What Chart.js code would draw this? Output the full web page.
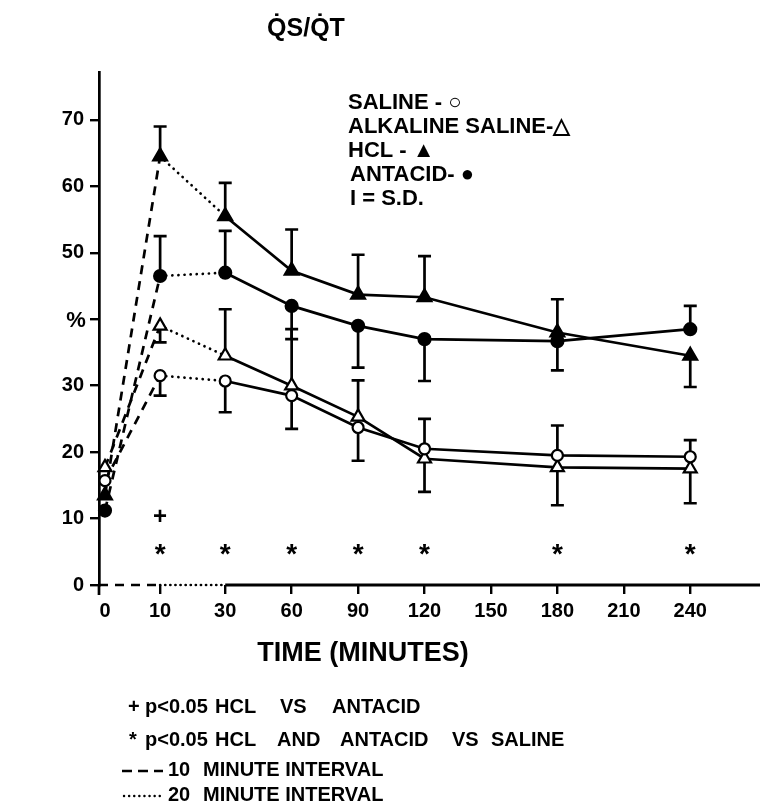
<!DOCTYPE html>
<html><head><meta charset="utf-8">
<script src="https://cdn.jsdelivr.net/npm/chart.js@4.4.0/dist/chart.umd.min.js"></script>
<style>html,body{margin:0;padding:0;background:#fff;}</style>
</head><body>
<canvas id="c" width="775" height="808"></canvas>
<script>
// ---- data ----
const times = [0, 10, 30, 60, 90, 120, 180, 240];
const tickTimes = [0, 10, 30, 60, 90, 120, 150, 180, 210, 240];
const yTicks = [0, 10, 20, 30, 40, 50, 60, 70];

const saline    = [15.7, 31.5, 30.7, 28.5, 23.7, 20.5, 19.5, 19.3];
const alkSaline = [17.7, 39.0, 34.5, 30.0, 25.3, 19.0, 17.7, 17.5];
const hcl       = [13.5, 64.5, 55.5, 47.3, 43.7, 43.3, 38.0, 34.5];
const antacid   = [11.2, 46.5, 47.0, 42.0, 39.0, 37.0, 36.7, 38.5];

// standard deviations (bar length) and the side each bar is drawn on (+1 up, -1 down)
const salineSD    = [0, 3.0, 4.7, 5.0, 5.0, 4.5, 4.5, 2.5];
const salineDir   = [0, -1, -1, -1, -1, 1, 1, 1];
const alkSalineSD = [0, 2.5, 7.0, 8.5, 5.5, 5.0, 5.7, 5.2];
const alkSalineDir= [0, -1, 1, 1, 1, -1, -1, -1];
const hclSD       = [0, 4.5, 5.0, 6.2, 6.0, 6.2, 5.0, 4.7];
const hclDir      = [0, 1, 1, 1, 1, 1, 1, -1];
const antacidSD   = [0, 6.0, 6.3, 5.0, 6.3, 6.3, 4.4, 3.5];
const antacidDir  = [0, 1, 1, -1, -1, -1, -1, 1];

// significance markers
const plusTimes = [10];
const starTimes = [10, 30, 60, 90, 120, 180, 240];

// ---- non-uniform time axis (layout mapping) ----
const breakT = [0, 10, 30, 240];
const breakP = [0, 0.83, 1.81, 8.81];
function pos(t){
  for (let i = 0; i < breakT.length - 1; i++) {
    if (t <= breakT[i+1] || i === breakT.length - 2) {
      const f = (t - breakT[i]) / (breakT[i+1] - breakT[i]);
      return breakP[i] + f * (breakP[i+1] - breakP[i]);
    }
  }
}
const X_MIN = -0.09, X_MAX = 9.86;
const Y_MAX = 77.2;
const FONT = "'Liberation Sans', Arial, sans-serif";

function pts(arr){ return arr.map((v,i)=>({x: pos(times[i]), y: v})); }
const segDash = ctx => ctx.p0DataIndex === 0 ? [9, 7] : (ctx.p0DataIndex === 1 ? [0.1, 6] : undefined);
const segCap = ctx => ctx.p0DataIndex === 1 ? 'round' : 'butt';
function mk(label, arr, style, fill, radius, sd, dir){
  return {
    label, data: pts(arr), sd, dir, clip:false,
    borderColor:'#000', borderWidth:2.7,
    pointStyle: style, pointRadius: radius, pointHoverRadius: radius,
    pointBackgroundColor: fill, pointBorderColor:'#000', pointBorderWidth:2.2,
    fill:false, tension:0,
    segment:{ borderDash: segDash, borderCapStyle: segCap }
  };
}

const errorBars = {
  id:'errorBars',
  beforeDatasetsDraw(chart){
    const c = chart.ctx, xs = chart.scales.x, ys = chart.scales.y;
    c.save(); c.strokeStyle = '#000'; c.lineWidth = 2.7; c.setLineDash([]);
    chart.data.datasets.forEach(ds => {
      ds.data.forEach((p, j) => {
        const s = ds.sd[j]; if (!s) return;
        const x = xs.getPixelForValue(p.x);
        const y0 = ys.getPixelForValue(p.y);
        const y1 = ys.getPixelForValue(p.y + ds.dir[j] * s);
        c.beginPath(); c.moveTo(x, y0); c.lineTo(x, y1);
        c.moveTo(x - 6.5, y1); c.lineTo(x + 6.5, y1); c.stroke();
      });
    });
    c.restore();
  }
};

function words(c, list, y){ list.forEach(([s, x]) => c.fillText(s, x, y)); }

const decor = {
  id:'decor',
  afterDraw(chart){
    const c = chart.ctx, xs = chart.scales.x, ys = chart.scales.y;
    const y0 = ys.getPixelForValue(0);
    c.save();
    c.strokeStyle = '#000'; c.lineWidth = 2.7;
    // x axis line: dashed 0-10, dotted 10-30, solid afterwards
    c.beginPath(); c.setLineDash([9,7]); c.lineCap='butt';
    c.moveTo(xs.left, y0); c.lineTo(xs.getPixelForValue(pos(10)), y0); c.stroke();
    c.beginPath(); c.setLineDash([0.1,5]); c.lineCap='round';
    c.moveTo(xs.getPixelForValue(pos(10)), y0); c.lineTo(xs.getPixelForValue(pos(30)), y0); c.stroke();
    c.beginPath(); c.setLineDash([]); c.lineCap='butt'; c.lineWidth = 3;
    c.moveTo(xs.getPixelForValue(pos(30)), y0); c.lineTo(xs.right, y0); c.stroke();
    // y axis extends slightly below baseline
    c.beginPath(); c.lineWidth = 2.7; c.moveTo(xs.left, y0); c.lineTo(xs.left, y0 + 10); c.stroke();

    c.fillStyle = '#000'; c.textBaseline = 'middle';
    // significance markers
    c.textAlign = 'center';
    c.font = `bold 24px ${FONT}`;
    plusTimes.forEach(t => c.fillText('+', xs.getPixelForValue(pos(t)), ys.getPixelForValue(10.2)));
    c.font = `bold 28px ${FONT}`;
    starTimes.forEach(t => c.fillText('*', xs.getPixelForValue(pos(t)), ys.getPixelForValue(5.4) + 6));

    // title
    c.font = `bold 25px ${FONT}`;
    c.textBaseline = 'alphabetic';
    c.fillText('Q\u0307S/Q\u0307T', 306, 36);
    c.textBaseline = 'middle';
    // y axis title (in place of the 40 label)
    c.font = `bold 22px ${FONT}`;
    c.fillText('%', 76, ys.getPixelForValue(40) + 2);
    // x axis title
    c.font = `bold 27px ${FONT}`;
    c.fillText('TIME (MINUTES)', 363, 654);

    // legend inside plot
    c.textAlign = 'left';
    c.font = `bold 22px ${FONT}`;
    const lg = ['SALINE - \u25CB', 'ALKALINE SALINE-\u25B3', 'HCL - \u25B2', 'ANTACID- \u25CF', 'I = S.D.'];
    const ly = [103, 127, 151, 175, 199];
    const lx = [348, 348, 348, 350, 350];
    lg.forEach((s, i) => c.fillText(s, lx[i], ly[i]));

    // footnotes
    c.font = `bold 20px ${FONT}`;
    words(c, [['+', 128], ['p<0.05', 145], ['HCL', 215], ['VS', 280], ['ANTACID', 332]], 707);
    words(c, [['*', 129], ['p<0.05', 145], ['HCL', 215], ['AND', 277], ['ANTACID', 340], ['VS', 452], ['SALINE', 491]], 740);
    words(c, [['10', 168], ['MINUTE INTERVAL', 203]], 770);
    words(c, [['20', 168], ['MINUTE INTERVAL', 203]], 795);
    c.lineWidth = 2.4;
    c.beginPath(); c.setLineDash([10,6]); c.lineCap='butt';
    c.moveTo(122, 771); c.lineTo(163, 771); c.stroke();
    c.beginPath(); c.setLineDash([0.1,5]); c.lineCap='round';
    c.moveTo(124, 796); c.lineTo(163, 796); c.stroke();
    c.restore();
  }
};

new Chart(document.getElementById('c'), {
  type:'line',
  data:{ datasets:[
    mk('SALINE', saline, 'circle', '#fff', 5.5, salineSD, salineDir),
    mk('ALKALINE SALINE', alkSaline, 'triangle', '#fff', 7.5, alkSalineSD, alkSalineDir),
    mk('HCL', hcl, 'triangle', '#000', 8, hclSD, hclDir),
    mk('ANTACID', antacid, 'circle', '#000', 6, antacidSD, antacidDir)
  ]},
  options:{
    responsive:false, animation:false, devicePixelRatio:1,
    layout:{ padding:{ top:72, right:15, left:0, bottom:0 } },
    plugins:{ legend:{display:false}, tooltip:{enabled:false}, title:{display:false} },
    scales:{
      x:{
        type:'linear', min:X_MIN, max:X_MAX,
        afterBuildTicks: s => { s.ticks = tickTimes.map(t => ({value: pos(t)})); },
        afterFit: s => { s.height = 223; },
        border:{ display:false },
        grid:{ drawOnChartArea:false, drawTicks:true, tickLength:9, lineWidth:2.4,
               color: ctx => ctx.index === 0 ? 'rgba(0,0,0,0)' : '#000' },
        ticks:{ callback:(v,i)=> String(tickTimes[i]), color:'#000', padding:5, maxRotation:0, autoSkip:false,
                font:{ family:FONT, size:20, weight:'bold' } }
      },
      y:{
        min:0, max:Y_MAX,
        afterBuildTicks: s => { s.ticks = yTicks.map(v => ({value:v})); },
        afterFit: s => { s.width = 99; },
        border:{ display:true, color:'#000', width:2.7 },
        grid:{ drawOnChartArea:false, drawTicks:true, tickLength:9, color:'#000', lineWidth:2.4 },
        ticks:{ color:'#000', padding:6, font:{ family:FONT, size:20, weight:'bold' },
                callback: v => v === 40 ? '' : String(v) }
      }
    }
  },
  plugins:[errorBars, decor]
});
</script>
</body></html>
